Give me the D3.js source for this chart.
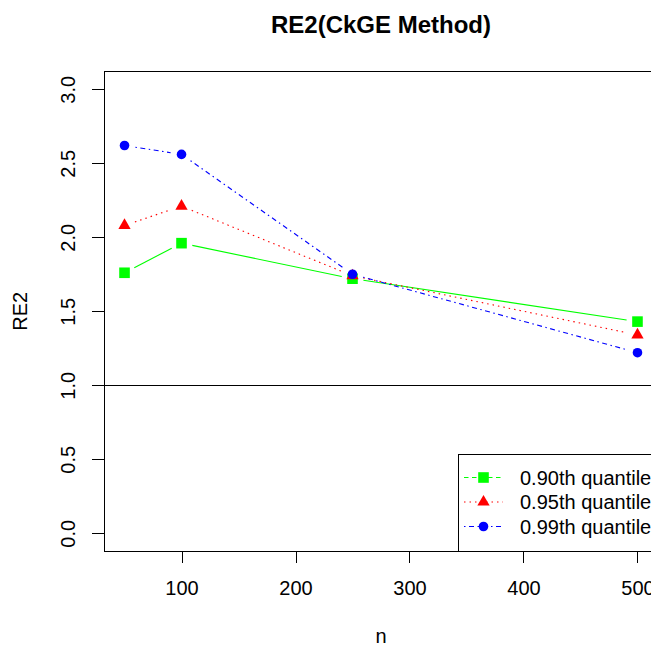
<!DOCTYPE html>
<html>
<head>
<meta charset="utf-8">
<script src="https://cdn.jsdelivr.net/npm/d3@7"></script>
<style>
  html, body { margin: 0; padding: 0; background: #fff; }
  svg { display: block; }
  text { font-family: "Liberation Sans", Arial, sans-serif; fill: #000; }
</style>
</head>
<body>
<svg id="chart"></svg>
<script>
// sample sizes on the x axis
const nValues = [50, 100, 250, 500];

// RE2 per quantile
const q90 = [1.76, 1.96, 1.72, 1.43];
const q95 = [2.08, 2.21, 1.74, 1.34];
const q99 = [2.62, 2.56, 1.75, 1.22];

const seriesNames = ['0.90th quantile', '0.95th quantile', '0.99th quantile'];
const xTicks = [100, 200, 300, 400, 500];
const yTicks = [0, 0.5, 1, 1.5, 2, 2.5, 3];
const refLine = 1;

const width = 651, height = 647;
const plot = { left: 104, right: 658, top: 71.5, bottom: 551 };

const svg = d3.select('#chart')
  .attr('width', width)
  .attr('height', height)
  .attr('viewBox', `0 0 ${width} ${height}`);

// R style: axis range padded 4% on each side
const x = d3.scaleLinear().domain([32, 518]).range([plot.left, plot.right]);
const y = d3.scaleLinear().domain([-0.12, 3.12]).range([plot.bottom, plot.top]);

const series = [
  { name: seriesNames[0], values: q90, color: '#00ff00', shape: 'square', dash: null, legendDash: '4.5,3.5' },
  { name: seriesNames[1], values: q95, color: '#ff0000', shape: 'triangle', dash: '1.5,4', legendDash: '1.5,4' },
  { name: seriesNames[2], values: q99, color: '#0000ff', shape: 'circle', dash: '1.5,3.5,5,3.5', legendDash: '1.5,3.5,5,3.5' }
];

// title and axis labels
svg.append('text')
  .attr('x', (plot.left + plot.right) / 2)
  .attr('y', 33)
  .attr('text-anchor', 'middle')
  .style('font-size', '24px')
  .style('font-weight', 'bold')
  .text('RE2(CkGE Method)');

svg.append('text')
  .attr('x', (plot.left + plot.right) / 2)
  .attr('y', 643)
  .attr('text-anchor', 'middle')
  .style('font-size', '20px')
  .text('n');

svg.append('text')
  .attr('transform', `translate(27, ${(plot.top + plot.bottom) / 2}) rotate(-90)`)
  .attr('text-anchor', 'middle')
  .style('font-size', '20px')
  .text('RE2');

// axes
const xAxis = svg.append('g')
  .attr('transform', `translate(0, ${plot.bottom})`)
  .call(d3.axisBottom(x).tickValues(xTicks).tickSize(12).tickSizeOuter(0).tickFormat(d3.format('d')));
xAxis.select('.domain').remove();
xAxis.selectAll('line').attr('stroke', '#000').attr('shape-rendering', 'crispEdges');
xAxis.selectAll('text')
  .attr('y', 44)
  .attr('dy', 0)
  .attr('fill', '#000')
  .style('font-size', '20px')
  .style('font-family', '"Liberation Sans", Arial, sans-serif');

const yAxis = svg.append('g')
  .attr('transform', `translate(${plot.left}, 0)`)
  .call(d3.axisLeft(y).tickValues(yTicks).tickSize(12).tickSizeOuter(0).tickFormat(d3.format('.1f')));
yAxis.select('.domain').remove();
yAxis.selectAll('line').attr('stroke', '#000').attr('shape-rendering', 'crispEdges');
yAxis.selectAll('text')
  .attr('x', 0)
  .attr('dy', 0)
  .attr('text-anchor', 'middle')
  .attr('transform', 'translate(-28.8, 0) rotate(-90)')
  .attr('fill', '#000')
  .style('font-size', '20px')
  .style('font-family', '"Liberation Sans", Arial, sans-serif');

// plot box
svg.append('rect')
  .attr('x', plot.left)
  .attr('y', plot.top)
  .attr('width', plot.right - plot.left)
  .attr('height', plot.bottom - plot.top)
  .attr('fill', 'none')
  .attr('stroke', '#000')
  .attr('stroke-width', 1)
  .attr('shape-rendering', 'crispEdges');

// abline(h = 1)
svg.append('line')
  .attr('x1', plot.left)
  .attr('x2', plot.right)
  .attr('y1', y(refLine))
  .attr('y2', y(refLine))
  .attr('stroke', '#000')
  .attr('shape-rendering', 'crispEdges');

// marker drawing helper
function drawMarker(g, shape, cx, cy, color) {
  if (shape === 'square') {
    const s = 10.6;
    g.append('rect')
      .attr('x', cx - s / 2).attr('y', cy - s / 2)
      .attr('width', s).attr('height', s)
      .attr('fill', color);
  } else if (shape === 'triangle') {
    const r = 7.1, hw = r * Math.sqrt(3) / 2;
    g.append('path')
      .attr('d', `M${cx},${cy - r}L${cx + hw},${cy + r / 2}L${cx - hw},${cy + r / 2}Z`)
      .attr('fill', color);
  } else {
    g.append('circle')
      .attr('cx', cx).attr('cy', cy).attr('r', 4.8)
      .attr('fill', color);
  }
}

// type = "b": segments broken around each point
const gap = 11;
const linesG = svg.append('g');
series.forEach(s => {
  const pts = nValues.map((n, i) => [x(n), y(s.values[i])]);
  const g = linesG.append('g');
  for (let i = 0; i < pts.length - 1; i++) {
    const [x0, y0] = pts[i], [x1, y1] = pts[i + 1];
    const len = Math.hypot(x1 - x0, y1 - y0);
    if (len <= 2 * gap) continue;
    const ux = (x1 - x0) / len, uy = (y1 - y0) / len;
    g.append('line')
      .attr('x1', x0 + ux * gap).attr('y1', y0 + uy * gap)
      .attr('x2', x1 - ux * gap).attr('y2', y1 - uy * gap)
      .attr('stroke', s.color)
      .attr('stroke-width', 1.1)
      .attr('stroke-dasharray', s.dash);
  }
  pts.forEach(p => drawMarker(g, s.shape, p[0], p[1], s.color));
});

// legend (bottom right, runs off the page edge like the original)
const legend = svg.append('g');
legend.append('rect')
  .attr('x', 458)
  .attr('y', 454)
  .attr('width', 260)
  .attr('height', plot.bottom - 454)
  .attr('fill', '#fff')
  .attr('stroke', '#000')
  .attr('shape-rendering', 'crispEdges');

const rowY = [477.5, 502, 526.5];
series.forEach((s, i) => {
  const ry = rowY[i];
  legend.append('line')
    .attr('x1', 464).attr('x2', 503)
    .attr('y1', ry).attr('y2', ry)
    .attr('stroke', s.color)
    .attr('stroke-width', 1.1)
    .attr('stroke-dasharray', s.legendDash);
  drawMarker(legend, s.shape, 483.5, ry, s.color);
  legend.append('text')
    .attr('x', 520)
    .attr('y', ry + 7)
    .style('font-size', '20px')
    .text(s.name);
});
</script>
</body>
</html>
